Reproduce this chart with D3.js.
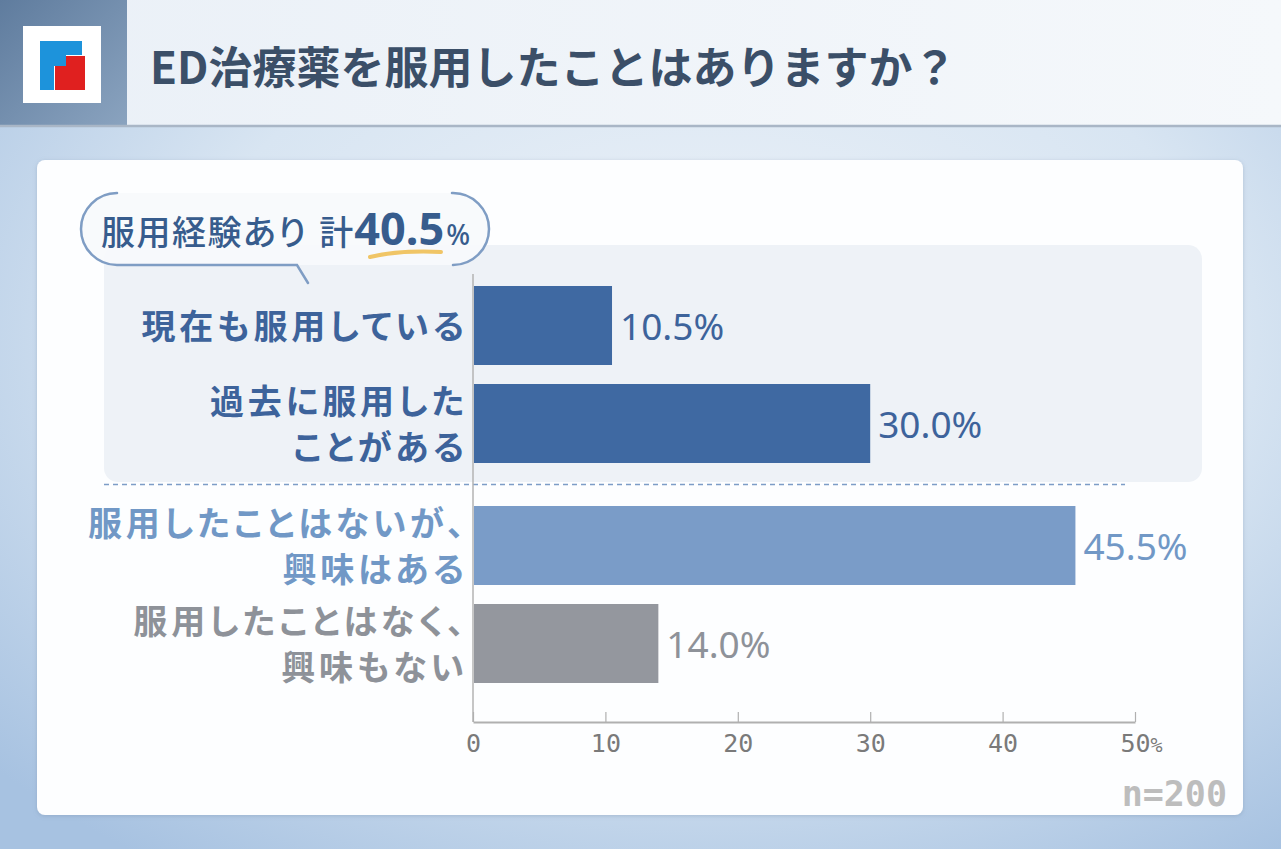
<!DOCTYPE html>
<html lang="ja">
<head>
<meta charset="utf-8">
<script src="https://cdn.jsdelivr.net/npm/d3@7"></script>
<style>
  html, body { margin: 0; padding: 0; }
  body { width: 1281px; height: 849px; overflow: hidden; font-family: "Noto Sans CJK JP", "Noto Sans", sans-serif; }
  svg { display: block; }
  .palt { font-feature-settings: "palt" 1; }
</style>
</head>
<body>
<svg id="chart" width="1281" height="849"></svg>
<script>
// --- data ---
const title = "ED治療薬を服用したことはありますか？";
const categories = [
  ["現在も服用している"],
  ["過去に服用した", "ことがある"],
  ["服用したことはないが、", "興味はある"],
  ["服用したことはなく、", "興味もない"]
];
const values = [10.5, 30.0, 45.5, 14.0];
const groups = ["used", "used", "interest", "none"];
const tickValues = [0, 10, 20, 30, 40, 50];
const calloutLabel = "服用経験あり";
const calloutSum = "計";
const calloutValue = 40.5;
const sampleLabel = "n=200";

const colors = {
  used:     { bar: "#3f69a2", text: "#3d639b" },
  interest: { bar: "#7a9cc8", text: "#7198c6" },
  none:     { bar: "#94979e", text: "#8e9299" }
};

const svg = d3.select("#chart");
const defs = svg.append("defs");

// background wash
const bg = defs.append("radialGradient").attr("id", "bg")
  .attr("cx", "55%").attr("cy", "40%").attr("r", "75%");
bg.append("stop").attr("offset", "0%").attr("stop-color", "#eef3f9");
bg.append("stop").attr("offset", "55%").attr("stop-color", "#d8e5f2");
bg.append("stop").attr("offset", "100%").attr("stop-color", "#a7c2e1");
svg.append("rect").attr("width", 1281).attr("height", 849).attr("fill", "url(#bg)");

// header band
const hdr = defs.append("linearGradient").attr("id", "hdr").attr("x1", 0).attr("x2", 1);
hdr.append("stop").attr("offset", "0%").attr("stop-color", "#eaf0f7");
hdr.append("stop").attr("offset", "100%").attr("stop-color", "#f5f8fb");
svg.append("rect").attr("x", 0).attr("y", 0).attr("width", 1281).attr("height", 126).attr("fill", "url(#hdr)");

const side = defs.append("linearGradient").attr("id", "side")
  .attr("x1", 0).attr("y1", 0).attr("x2", 1).attr("y2", 1);
side.append("stop").attr("offset", "0%").attr("stop-color", "#5f7c9e");
side.append("stop").attr("offset", "100%").attr("stop-color", "#8aa3bf");
svg.append("rect").attr("x", 0).attr("y", 0).attr("width", 127).attr("height", 126).attr("fill", "url(#side)");
svg.append("line").attr("x1", 0).attr("x2", 1281).attr("y1", 126).attr("y2", 126)
  .attr("stroke", "#a9b6c6").attr("stroke-width", 2.5);

// logo
const logo = svg.append("g");
logo.append("rect").attr("x", 23).attr("y", 26).attr("width", 78).attr("height", 77).attr("fill", "#fff");
logo.append("rect").attr("x", 55).attr("y", 56).attr("width", 30).attr("height", 34).attr("fill", "#e0201f");
logo.append("rect").attr("x", 40).attr("y", 41).attr("width", 42).attr("height", 14).attr("fill", "#1d93db");
logo.append("rect").attr("x", 40).attr("y", 41).attr("width", 14).attr("height", 49).attr("fill", "#1d93db");
logo.append("rect").attr("x", 54).attr("y", 55).attr("width", 12).attr("height", 11).attr("fill", "#1d93db");

svg.append("text").attr("x", 150).attr("y", 84)
  .attr("font-size", 44).attr("font-weight", 700).attr("fill", "#3b4f68")
  .text(title);

// card
const shadow = defs.append("filter").attr("id", "shadow").attr("x", "-5%").attr("y", "-5%").attr("width", "110%").attr("height", "110%");
shadow.append("feDropShadow").attr("dx", 0).attr("dy", 1).attr("stdDeviation", 2)
  .attr("flood-color", "#6f86a3").attr("flood-opacity", 0.35);
svg.append("rect").attr("x", 37).attr("y", 160).attr("width", 1206).attr("height", 655)
  .attr("rx", 8).attr("fill", "#fdfeff").attr("filter", "url(#shadow)");

// highlight panel for the "used" group
svg.append("rect").attr("x", 104).attr("y", 245).attr("width", 1098).attr("height", 237)
  .attr("rx", 14).attr("fill", "#eef2f7");

// scales
const x = d3.scaleLinear().domain([0, 50]).range([473, 1135]);
const idx = d3.range(categories.length);
const y = d3.scaleBand().domain(idx).range([286, 659]).paddingInner(19 / 98).paddingOuter(0);
const groupGap = 24;
const rowY = i => y(i) + (i >= 2 ? groupGap : 0);
const bw = y.bandwidth();

// divider between groups
const divY = (y(1) + bw + rowY(2)) / 2;
svg.append("line")
  .attr("x1", 104).attr("x2", 1125).attr("y1", divY).attr("y2", divY)
  .attr("stroke", "#7d9dc7").attr("stroke-width", 1.5).attr("stroke-dasharray", "5,4");

// vertical baseline
svg.append("line").attr("x1", x(0)).attr("x2", x(0)).attr("y1", 274).attr("y2", 722)
  .attr("stroke", "#b3b3b3").attr("stroke-width", 1.5);

// bars
svg.append("g").selectAll("rect").data(values).join("rect")
  .attr("x", x(0) + 1)
  .attr("y", (d, i) => rowY(i))
  .attr("width", d => x(d) - x(0) - 1)
  .attr("height", bw)
  .attr("fill", (d, i) => colors[groups[i]].bar);

// value labels
svg.append("g").selectAll("text").data(values).join("text")
  .attr("x", d => x(d) + 8)
  .attr("y", (d, i) => rowY(i) + bw / 2)
  .attr("dy", "0.38em")
  .attr("font-family", "'Noto Sans', 'Noto Sans CJK JP', sans-serif")
  .attr("font-size", 37).attr("font-weight", 400)
  .attr("fill", (d, i) => colors[groups[i]].text)
  .text(d => d.toFixed(1) + "%");

// category labels, one text per line
const lineH = 46;
const spacing = 3.8;
const labelRows = svg.append("g").selectAll("g").data(categories).join("g");
labelRows.each(function (lines, i) {
  const cy = rowY(i) + bw / 2;
  const top = cy - (lines.length - 1) * lineH / 2;
  d3.select(this).selectAll("text").data(lines).join("text")
    .attr("class", "palt")
    .attr("text-anchor", "end")
    .attr("font-size", 34).attr("font-weight", 700)
    .attr("letter-spacing", spacing)
    .attr("fill", colors[groups[i]].text)
    .attr("x", 464 + spacing)
    .attr("y", (l, j) => top + j * lineH)
    .attr("dy", "0.4em")
    .text(l => l);
});

// x axis
const axis = svg.append("g").attr("transform", "translate(0,722)")
  .call(d3.axisBottom(x).tickValues(tickValues).tickSizeInner(-10).tickSizeOuter(0).tickPadding(12).tickFormat(d => d));
axis.select(".domain").attr("stroke", "#b0b0b0").attr("stroke-width", 2);
axis.selectAll(".tick line").attr("stroke", "#b0b0b0").attr("stroke-width", 1.2);
axis.selectAll(".tick text")
  .attr("font-family", "'DejaVu Sans Mono', monospace")
  .attr("font-size", 25).attr("fill", "#7a7a7a")
  .each(function (d) {
    if (d === 50) {
      d3.select(this).append("tspan").attr("font-size", 20).text("%");
      d3.select(this).attr("text-anchor", "start").attr("x", -15);
    }
  });

// callout bubble
const bub = svg.append("g");
bub.append("rect").attr("x", 81).attr("y", 193).attr("width", 408).attr("height", 72)
  .attr("rx", 36).attr("fill", "#f7f9fc").attr("opacity", 0.9);
const arcPath = d3.path();
// left half: top-left arc round to the bottom, then bottom edge to the tail
arcPath.moveTo(117, 193);
arcPath.arc(117, 229, 36, -Math.PI / 2, Math.PI / 2, true);
arcPath.lineTo(297, 265);
arcPath.lineTo(308, 283);
// right half
arcPath.moveTo(452, 193);
arcPath.arc(453, 229, 36, -Math.PI / 2, Math.PI / 2, false);
bub.append("path").attr("d", arcPath.toString()).attr("fill", "none")
  .attr("stroke", "#7f9dc4").attr("stroke-width", 2.5).attr("stroke-linecap", "round");

// underline highlight
bub.append("path").attr("d", "M370,257 Q400,250 441,252")
  .attr("fill", "none").attr("stroke", "#f0c566").attr("stroke-width", 4).attr("stroke-linecap", "round");

const ct = bub.append("text").attr("class", "palt").attr("x", 101).attr("y", 245).attr("fill", "#375c8d");
ct.append("tspan").attr("font-size", 34).attr("font-weight", 500).attr("letter-spacing", 1.5).text(calloutLabel);
ct.append("tspan").attr("font-size", 34).attr("font-weight", 500).attr("dx", 12).text(calloutSum);
ct.append("tspan").attr("font-family", "'Noto Sans', sans-serif").attr("font-size", 45).attr("font-weight", 700).attr("dx", 1).text(calloutValue.toFixed(1));
ct.append("tspan").attr("font-family", "'Noto Sans', sans-serif").attr("font-size", 28).attr("font-weight", 500).attr("dx", 2).text("%");

// sample size
svg.append("text").attr("x", 1227).attr("y", 806).attr("text-anchor", "end")
  .attr("font-family", "'DejaVu Sans Mono', monospace").attr("font-size", 35).attr("font-weight", 700)
  .attr("fill", "#bdbdbd").text(sampleLabel);
</script>
</body>
</html>
